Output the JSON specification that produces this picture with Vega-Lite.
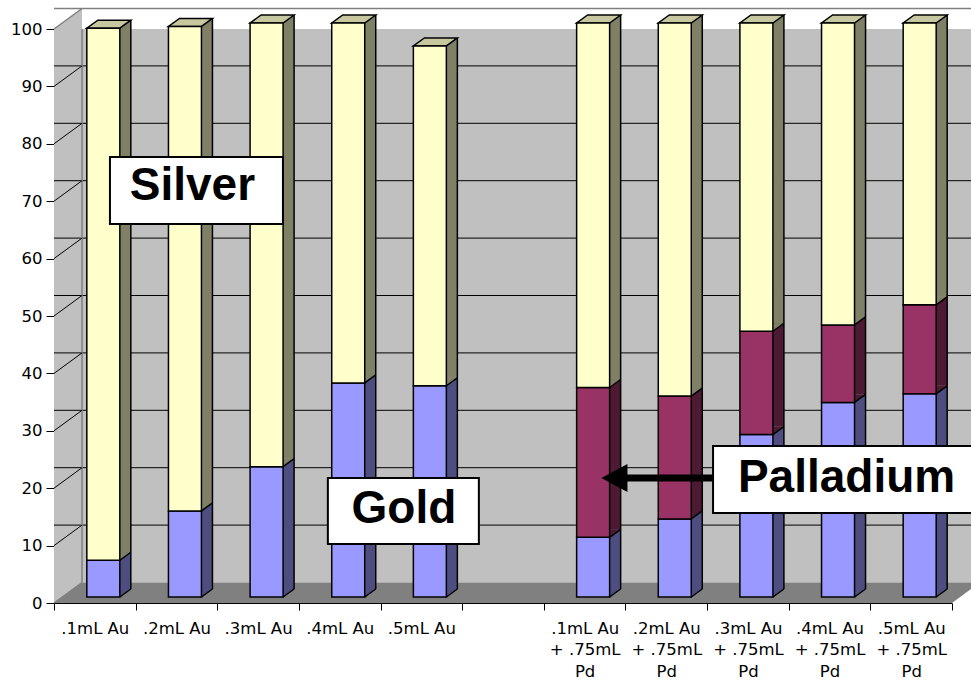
{
  "$schema": "https://vega.github.io/schema/vega-lite/v6.json",
  "width": 898,
  "height": 574,
  "autosize": {"type": "none"},
  "padding": {"left": 54, "top": 29, "right": 19, "bottom": 77},
  "background": "white",
  "datasets": {
    "metals": [
      {"cat": ".1mL Au", "metal": "Gold", "pct": 6.4},
      {"cat": ".1mL Au", "metal": "Silver", "pct": 92.7},
      {"cat": ".2mL Au", "metal": "Gold", "pct": 15.0},
      {"cat": ".2mL Au", "metal": "Silver", "pct": 84.4},
      {"cat": ".3mL Au", "metal": "Gold", "pct": 22.7},
      {"cat": ".3mL Au", "metal": "Silver", "pct": 77.3},
      {"cat": ".4mL Au", "metal": "Gold", "pct": 37.3},
      {"cat": ".4mL Au", "metal": "Silver", "pct": 62.7},
      {"cat": ".5mL Au", "metal": "Gold", "pct": 36.8},
      {"cat": ".5mL Au", "metal": "Silver", "pct": 59.2},
      {"cat": ".1mL Au|+ .75mL|Pd", "metal": "Gold", "pct": 10.4},
      {"cat": ".1mL Au|+ .75mL|Pd", "metal": "Palladium", "pct": 26.1},
      {"cat": ".1mL Au|+ .75mL|Pd", "metal": "Silver", "pct": 63.5},
      {"cat": ".2mL Au|+ .75mL|Pd", "metal": "Gold", "pct": 13.6},
      {"cat": ".2mL Au|+ .75mL|Pd", "metal": "Palladium", "pct": 21.4},
      {"cat": ".2mL Au|+ .75mL|Pd", "metal": "Silver", "pct": 65.0},
      {"cat": ".3mL Au|+ .75mL|Pd", "metal": "Gold", "pct": 28.3},
      {"cat": ".3mL Au|+ .75mL|Pd", "metal": "Palladium", "pct": 18.0},
      {"cat": ".3mL Au|+ .75mL|Pd", "metal": "Silver", "pct": 53.7},
      {"cat": ".4mL Au|+ .75mL|Pd", "metal": "Gold", "pct": 33.9},
      {"cat": ".4mL Au|+ .75mL|Pd", "metal": "Palladium", "pct": 13.5},
      {"cat": ".4mL Au|+ .75mL|Pd", "metal": "Silver", "pct": 52.6},
      {"cat": ".5mL Au|+ .75mL|Pd", "metal": "Gold", "pct": 35.4},
      {"cat": ".5mL Au|+ .75mL|Pd", "metal": "Palladium", "pct": 15.5},
      {"cat": ".5mL Au|+ .75mL|Pd", "metal": "Silver", "pct": 49.1}
    ],
    "levels": [{"v": 10}, {"v": 20}, {"v": 30}, {"v": 40}, {"v": 50}, {"v": 60}, {"v": 70}, {"v": 80}, {"v": 90}],
    "edges": [{"v": 0}, {"v": 100}],
    "one": [{}]
  },
  "config": {
    "view": {"stroke": null},
    "axis": {"grid": false, "domainColor": "black", "tickColor": "black", "labelColor": "black", "labelFont": "DejaVu Sans", "labelFontSize": 16.5, "domainWidth": 1, "tickWidth": 1, "zindex": 1},
    "axisX": {"tickSize": 7, "tickBand": "extent", "labelAngle": 0, "labelBaseline": "alphabetic", "labelPadding": 23, "labelLineHeight": 21.5, "labelOverlap": false, "labelLimit": 0},
    "axisY": {"tickSize": 8, "labelPadding": 4},
    "scale": {"bandPaddingInner": 0, "bandPaddingOuter": 0}
  },
  "resolve": {"scale": {"fill": "independent", "y": "independent"}},
  "layer": [
    {
      "data": {"name": "one"},
      "mark": {"type": "rect", "fill": "#c0c0c0", "xOffset": 28, "yOffset": -20.5},
      "encoding": {
        "y": {"datum": 0, "type": "quantitative", "axis": null, "scale": {"domain": [0, 100], "nice": false}},
        "y2": {"datum": 100}
      }
    },
    {
      "data": {"name": "one"},
      "mark": {"type": "point", "shape": "M-0.0471,1L-0.0471,-0.931L0.0471,-1L0.0471,0.931Z", "size": 353430, "filled": true, "fill": "#c0c0c0", "opacity": 1, "strokeWidth": 0, "xOffset": -26.8},
      "encoding": {
        "x": {"datum": ".1mL Au", "type": "nominal", "scale": {"type": "band", "domain": [".1mL Au", ".2mL Au", ".3mL Au", ".4mL Au", ".5mL Au", "gap", ".1mL Au|+ .75mL|Pd", ".2mL Au|+ .75mL|Pd", ".3mL Au|+ .75mL|Pd", ".4mL Au|+ .75mL|Pd", ".5mL Au|+ .75mL|Pd"], "paddingInner": 0, "paddingOuter": 0}},
        "y": {"datum": 51.79, "type": "quantitative", "axis": null, "scale": {"domain": [0, 100], "nice": false}}
      }
    },
    {
      "data": {"name": "one"},
      "mark": {"type": "point", "shape": "M-1,0.02214L0.9395,0.02214L1,-0.02214L-0.9395,-0.02214Z", "size": 857476, "filled": true, "fill": "#808080", "opacity": 1, "strokeWidth": 0, "xOffset": 14, "yOffset": -10.25},
      "encoding": {
        "x": {"datum": "gap", "type": "nominal", "scale": {"type": "band", "domain": [".1mL Au", ".2mL Au", ".3mL Au", ".4mL Au", ".5mL Au", "gap", ".1mL Au|+ .75mL|Pd", ".2mL Au|+ .75mL|Pd", ".3mL Au|+ .75mL|Pd", ".4mL Au|+ .75mL|Pd", ".5mL Au|+ .75mL|Pd"], "paddingInner": 0, "paddingOuter": 0}},
        "y": {"datum": 0, "type": "quantitative", "axis": null, "scale": {"domain": [0, 100], "nice": false}}
      }
    },
    {
      "data": {"name": "levels"},
      "mark": {"type": "rule", "stroke": "black", "strokeWidth": 1, "xOffset": 28, "yOffset": -20.5},
      "encoding": {
        "y": {"field": "v", "type": "quantitative", "title": null, "scale": {"domain": [0, 100], "nice": false}, "axis": {"values": [0, 10, 20, 30, 40, 50, 60, 70, 80, 90, 100]}}
      }
    },
    {
      "data": {"name": "one"},
      "mark": {"type": "rule", "stroke": "#808080", "strokeWidth": 1.5, "xOffset": 28, "yOffset": -20.5},
      "encoding": {
        "y": {"datum": 100, "type": "quantitative", "axis": null, "scale": {"domain": [0, 100], "nice": false}}
      }
    },
    {
      "data": {"name": "one"},
      "mark": {"type": "rule", "stroke": "#808080", "strokeWidth": 1.5, "xOffset": -12.8, "yOffset": -20.5},
      "encoding": {
        "x": {"datum": ".1mL Au", "type": "nominal", "scale": {"type": "band", "domain": [".1mL Au", ".2mL Au", ".3mL Au", ".4mL Au", ".5mL Au", "gap", ".1mL Au|+ .75mL|Pd", ".2mL Au|+ .75mL|Pd", ".3mL Au|+ .75mL|Pd", ".4mL Au|+ .75mL|Pd", ".5mL Au|+ .75mL|Pd"], "paddingInner": 0, "paddingOuter": 0}},
        "y": {"datum": 0, "type": "quantitative", "axis": null, "scale": {"domain": [0, 100], "nice": false}},
        "y2": {"datum": 100}
      }
    },
    {
      "data": {"name": "levels"},
      "mark": {"type": "point", "shape": "M-1,0.732L1,-0.732", "size": 784, "filled": false, "stroke": "black", "strokeWidth": 1, "opacity": 1, "xOffset": -26.8, "yOffset": -10.25},
      "encoding": {
        "x": {"datum": ".1mL Au", "type": "nominal", "scale": {"type": "band", "domain": [".1mL Au", ".2mL Au", ".3mL Au", ".4mL Au", ".5mL Au", "gap", ".1mL Au|+ .75mL|Pd", ".2mL Au|+ .75mL|Pd", ".3mL Au|+ .75mL|Pd", ".4mL Au|+ .75mL|Pd", ".5mL Au|+ .75mL|Pd"], "paddingInner": 0, "paddingOuter": 0}},
        "y": {"field": "v", "type": "quantitative", "title": null, "axis": null, "scale": {"domain": [0, 100], "nice": false}}
      }
    },
    {
      "data": {"name": "edges"},
      "mark": {"type": "point", "shape": "M-1,0.732L1,-0.732", "size": 784, "filled": false, "stroke": "#808080", "strokeWidth": 1.5, "opacity": 1, "xOffset": -26.8, "yOffset": -10.25},
      "encoding": {
        "x": {"datum": ".1mL Au", "type": "nominal", "scale": {"type": "band", "domain": [".1mL Au", ".2mL Au", ".3mL Au", ".4mL Au", ".5mL Au", "gap", ".1mL Au|+ .75mL|Pd", ".2mL Au|+ .75mL|Pd", ".3mL Au|+ .75mL|Pd", ".4mL Au|+ .75mL|Pd", ".5mL Au|+ .75mL|Pd"], "paddingInner": 0, "paddingOuter": 0}},
        "y": {"field": "v", "type": "quantitative", "title": null, "axis": null, "scale": {"domain": [0, 100], "nice": false}}
      }
    },
    {
      "data": {"name": "metals"},
      "transform": [{"stack": "pct", "groupby": ["cat"], "sort": [{"field": "metal", "order": "ascending"}], "as": ["lo", "hi"]}],
      "mark": {"type": "bar", "width": 11, "xOffset": 30.5, "strokeWidth": 0},
      "encoding": {
        "x": {"field": "cat", "type": "nominal", "title": null, "scale": {"type": "band", "domain": [".1mL Au", ".2mL Au", ".3mL Au", ".4mL Au", ".5mL Au", "gap", ".1mL Au|+ .75mL|Pd", ".2mL Au|+ .75mL|Pd", ".3mL Au|+ .75mL|Pd", ".4mL Au|+ .75mL|Pd", ".5mL Au|+ .75mL|Pd"], "paddingInner": 0, "paddingOuter": 0}},
        "y": {"field": "hi", "type": "quantitative", "title": null, "axis": null, "scale": {"domain": [-2.439, 97.561], "nice": false, "zero": false}},
        "y2": {"field": "lo"},
        "fill": {"field": "metal", "type": "nominal", "legend": null, "scale": {"domain": ["Gold", "Palladium", "Silver"], "range": ["#4d4d80", "#4d1a33", "#808066"]}}
      }
    },
    {
      "data": {"name": "metals"},
      "transform": [{"stack": "pct", "groupby": ["cat"], "sort": [{"field": "metal", "order": "ascending"}], "as": ["lo", "hi"]}],
      "mark": {"type": "point", "shape": "M-1,0.727L-1,-0.727L1,-0.727Z", "size": 121, "filled": true, "opacity": 1, "strokeWidth": 0, "xOffset": 30.5, "yOffset": -10},
      "encoding": {
        "x": {"field": "cat", "type": "nominal", "title": null, "scale": {"type": "band", "domain": [".1mL Au", ".2mL Au", ".3mL Au", ".4mL Au", ".5mL Au", "gap", ".1mL Au|+ .75mL|Pd", ".2mL Au|+ .75mL|Pd", ".3mL Au|+ .75mL|Pd", ".4mL Au|+ .75mL|Pd", ".5mL Au|+ .75mL|Pd"], "paddingInner": 0, "paddingOuter": 0}},
        "y": {"field": "lo", "type": "quantitative", "title": null, "axis": null, "scale": {"domain": [0, 100], "nice": false}},
        "fill": {"field": "metal", "type": "nominal", "legend": null, "scale": {"domain": ["Gold", "Palladium", "Silver"], "range": ["#4d4d80", "#4d1a33", "#808066"]}}
      }
    },
    {
      "data": {"name": "metals"},
      "transform": [{"stack": "pct", "groupby": ["cat"], "sort": [{"field": "metal", "order": "ascending"}], "as": ["lo", "hi"]}],
      "mark": {"type": "point", "shape": "M-1,0.727L1,-0.727", "size": 121, "filled": false, "stroke": "black", "strokeWidth": 1.5, "opacity": 1, "xOffset": 30.5, "yOffset": -10},
      "encoding": {
        "x": {"field": "cat", "type": "nominal", "title": null, "scale": {"type": "band", "domain": [".1mL Au", ".2mL Au", ".3mL Au", ".4mL Au", ".5mL Au", "gap", ".1mL Au|+ .75mL|Pd", ".2mL Au|+ .75mL|Pd", ".3mL Au|+ .75mL|Pd", ".4mL Au|+ .75mL|Pd", ".5mL Au|+ .75mL|Pd"], "paddingInner": 0, "paddingOuter": 0}},
        "y": {"field": "lo", "type": "quantitative", "title": null, "axis": null, "scale": {"domain": [0, 100], "nice": false}}
      }
    },
    {
      "data": {"name": "metals"},
      "transform": [
        {"stack": "pct", "groupby": ["cat"], "sort": [{"field": "metal", "order": "ascending"}], "as": ["lo", "hi"]},
        {"filter": "datum.metal == 'Silver'"}
      ],
      "mark": {"type": "rule", "stroke": "black", "strokeWidth": 1.5, "xOffset": 36},
      "encoding": {
        "x": {"field": "cat", "type": "nominal", "title": null, "scale": {"type": "band", "domain": [".1mL Au", ".2mL Au", ".3mL Au", ".4mL Au", ".5mL Au", "gap", ".1mL Au|+ .75mL|Pd", ".2mL Au|+ .75mL|Pd", ".3mL Au|+ .75mL|Pd", ".4mL Au|+ .75mL|Pd", ".5mL Au|+ .75mL|Pd"], "paddingInner": 0, "paddingOuter": 0}},
        "y": {"field": "hi", "type": "quantitative", "title": null, "axis": null, "scale": {"domain": [-2.439, 97.561], "nice": false, "zero": false}},
        "y2": {"datum": 0}
      }
    },
    {
      "data": {"name": "metals"},
      "transform": [
        {"stack": "pct", "groupby": ["cat"], "sort": [{"field": "metal", "order": "ascending"}], "as": ["lo", "hi"]},
        {"filter": "datum.metal == 'Silver'"}
      ],
      "mark": {"type": "point", "shape": "M-1,0.182L0.5,0.182L1,-0.182L-0.5,-0.182Z", "size": 1936, "filled": true, "fill": "#c8c8a0", "stroke": "black", "strokeWidth": 1.5, "opacity": 1, "xOffset": 14, "yOffset": -10},
      "encoding": {
        "x": {"field": "cat", "type": "nominal", "title": null, "scale": {"type": "band", "domain": [".1mL Au", ".2mL Au", ".3mL Au", ".4mL Au", ".5mL Au", "gap", ".1mL Au|+ .75mL|Pd", ".2mL Au|+ .75mL|Pd", ".3mL Au|+ .75mL|Pd", ".4mL Au|+ .75mL|Pd", ".5mL Au|+ .75mL|Pd"], "paddingInner": 0, "paddingOuter": 0}},
        "y": {"field": "hi", "type": "quantitative", "title": null, "axis": null, "scale": {"domain": [0, 100], "nice": false}}
      }
    },
    {
      "data": {"name": "metals"},
      "transform": [{"stack": "pct", "groupby": ["cat"], "sort": [{"field": "metal", "order": "ascending"}], "as": ["lo", "hi"]}],
      "mark": {"type": "bar", "width": 33, "xOffset": 8.5, "stroke": "black", "strokeWidth": 1.5},
      "encoding": {
        "x": {"field": "cat", "type": "nominal", "title": null, "scale": {"type": "band", "domain": [".1mL Au", ".2mL Au", ".3mL Au", ".4mL Au", ".5mL Au", "gap", ".1mL Au|+ .75mL|Pd", ".2mL Au|+ .75mL|Pd", ".3mL Au|+ .75mL|Pd", ".4mL Au|+ .75mL|Pd", ".5mL Au|+ .75mL|Pd"], "paddingInner": 0, "paddingOuter": 0}, "axis": {"labelExpr": "isString(datum.value) && datum.value != 'gap' ? split(datum.value, '|') : ''"}},
        "y": {"field": "hi", "type": "quantitative", "title": null, "axis": null, "scale": {"domain": [-1.0453, 98.9547], "nice": false, "zero": false}},
        "y2": {"field": "lo"},
        "fill": {"field": "metal", "type": "nominal", "legend": null, "scale": {"domain": ["Gold", "Palladium", "Silver"], "range": ["#9999ff", "#993366", "#ffffcc"]}}
      }
    },
    {
      "data": {"name": "one"},
      "mark": {"type": "point", "shape": "M-1,-0.387L1,-0.387L1,0.387L-1,0.387Z", "size": 29929, "filled": true, "fill": "white", "stroke": "black", "strokeWidth": 2, "opacity": 1, "xOffset": 20},
      "encoding": {
        "x": {"datum": ".2mL Au", "type": "nominal", "scale": {"type": "band", "domain": [".1mL Au", ".2mL Au", ".3mL Au", ".4mL Au", ".5mL Au", "gap", ".1mL Au|+ .75mL|Pd", ".2mL Au|+ .75mL|Pd", ".3mL Au|+ .75mL|Pd", ".4mL Au|+ .75mL|Pd", ".5mL Au|+ .75mL|Pd"], "paddingInner": 0, "paddingOuter": 0}},
        "y": {"datum": 71.86, "type": "quantitative", "axis": null, "scale": {"domain": [0, 100], "nice": false}}
      }
    },
    {
      "data": {"name": "one"},
      "mark": {"type": "text", "text": "Silver", "font": "Liberation Sans", "fontWeight": "bold", "fontSize": 46, "align": "center", "baseline": "alphabetic", "color": "black", "xOffset": 16, "yOffset": 9.5},
      "encoding": {
        "x": {"datum": ".2mL Au", "type": "nominal", "scale": {"type": "band", "domain": [".1mL Au", ".2mL Au", ".3mL Au", ".4mL Au", ".5mL Au", "gap", ".1mL Au|+ .75mL|Pd", ".2mL Au|+ .75mL|Pd", ".3mL Au|+ .75mL|Pd", ".4mL Au|+ .75mL|Pd", ".5mL Au|+ .75mL|Pd"], "paddingInner": 0, "paddingOuter": 0}},
        "y": {"datum": 71.86, "type": "quantitative", "axis": null, "scale": {"domain": [0, 100], "nice": false}}
      }
    },
    {
      "data": {"name": "one"},
      "mark": {"type": "point", "shape": "M-1,-0.437L1,-0.437L1,0.437L-1,0.437Z", "size": 22801, "filled": true, "fill": "white", "stroke": "black", "strokeWidth": 2, "opacity": 1, "xOffset": -18},
      "encoding": {
        "x": {"datum": ".5mL Au", "type": "nominal", "scale": {"type": "band", "domain": [".1mL Au", ".2mL Au", ".3mL Au", ".4mL Au", ".5mL Au", "gap", ".1mL Au|+ .75mL|Pd", ".2mL Au|+ .75mL|Pd", ".3mL Au|+ .75mL|Pd", ".4mL Au|+ .75mL|Pd", ".5mL Au|+ .75mL|Pd"], "paddingInner": 0, "paddingOuter": 0}},
        "y": {"datum": 16.03, "type": "quantitative", "axis": null, "scale": {"domain": [0, 100], "nice": false}}
      }
    },
    {
      "data": {"name": "one"},
      "mark": {"type": "text", "text": "Gold", "font": "Liberation Sans", "fontWeight": "bold", "fontSize": 46, "align": "center", "baseline": "alphabetic", "color": "black", "xOffset": -17.4, "yOffset": 12},
      "encoding": {
        "x": {"datum": ".5mL Au", "type": "nominal", "scale": {"type": "band", "domain": [".1mL Au", ".2mL Au", ".3mL Au", ".4mL Au", ".5mL Au", "gap", ".1mL Au|+ .75mL|Pd", ".2mL Au|+ .75mL|Pd", ".3mL Au|+ .75mL|Pd", ".4mL Au|+ .75mL|Pd", ".5mL Au|+ .75mL|Pd"], "paddingInner": 0, "paddingOuter": 0}},
        "y": {"datum": 16.03, "type": "quantitative", "axis": null, "scale": {"domain": [0, 100], "nice": false}}
      }
    },
    {
      "data": {"name": "one"},
      "mark": {"type": "point", "shape": "M-1,0L-0.532,-0.252L-0.532,-0.063L1,-0.063L1,0.063L-0.532,0.063L-0.532,0.252Z", "size": 12321, "filled": true, "fill": "black", "strokeWidth": 0, "opacity": 1, "xOffset": -9.3},
      "encoding": {
        "x": {"datum": ".2mL Au|+ .75mL|Pd", "type": "nominal", "scale": {"type": "band", "domain": [".1mL Au", ".2mL Au", ".3mL Au", ".4mL Au", ".5mL Au", "gap", ".1mL Au|+ .75mL|Pd", ".2mL Au|+ .75mL|Pd", ".3mL Au|+ .75mL|Pd", ".4mL Au|+ .75mL|Pd", ".5mL Au|+ .75mL|Pd"], "paddingInner": 0, "paddingOuter": 0}},
        "y": {"datum": 21.78, "type": "quantitative", "axis": null, "scale": {"domain": [0, 100], "nice": false}}
      }
    },
    {
      "data": {"name": "one"},
      "mark": {"type": "point", "shape": "M-1,-0.256L1,-0.256L1,0.256L-1,0.256Z", "size": 68644, "filled": true, "fill": "white", "stroke": "black", "strokeWidth": 2, "opacity": 1, "xOffset": 14.5},
      "encoding": {
        "x": {"datum": ".4mL Au|+ .75mL|Pd", "type": "nominal", "scale": {"type": "band", "domain": [".1mL Au", ".2mL Au", ".3mL Au", ".4mL Au", ".5mL Au", "gap", ".1mL Au|+ .75mL|Pd", ".2mL Au|+ .75mL|Pd", ".3mL Au|+ .75mL|Pd", ".4mL Au|+ .75mL|Pd", ".5mL Au|+ .75mL|Pd"], "paddingInner": 0, "paddingOuter": 0}},
        "y": {"datum": 21.52, "type": "quantitative", "axis": null, "scale": {"domain": [0, 100], "nice": false}}
      }
    },
    {
      "data": {"name": "one"},
      "mark": {"type": "text", "text": "Palladium", "font": "Liberation Sans", "fontWeight": "bold", "fontSize": 46, "align": "center", "baseline": "alphabetic", "color": "black", "xOffset": 17, "yOffset": 12.5},
      "encoding": {
        "x": {"datum": ".4mL Au|+ .75mL|Pd", "type": "nominal", "scale": {"type": "band", "domain": [".1mL Au", ".2mL Au", ".3mL Au", ".4mL Au", ".5mL Au", "gap", ".1mL Au|+ .75mL|Pd", ".2mL Au|+ .75mL|Pd", ".3mL Au|+ .75mL|Pd", ".4mL Au|+ .75mL|Pd", ".5mL Au|+ .75mL|Pd"], "paddingInner": 0, "paddingOuter": 0}},
        "y": {"datum": 21.52, "type": "quantitative", "axis": null, "scale": {"domain": [0, 100], "nice": false}}
      }
    }
  ]
}
